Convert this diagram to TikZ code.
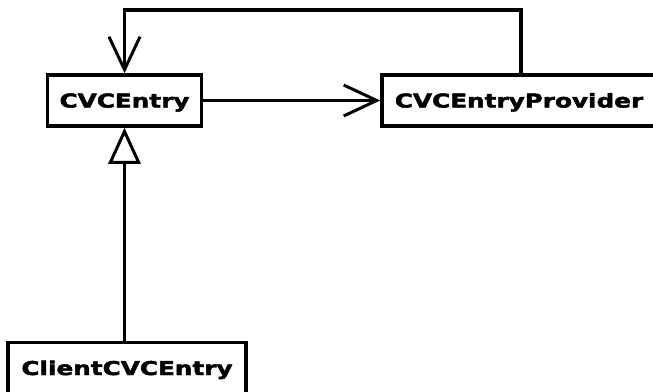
\documentclass[tikz,border=0pt]{standalone}
\usepackage{fontspec}
\newfontfamily\umlfont{DejaVu Sans}[FakeStretch=1.3,FakeBold=2.5]
\usetikzlibrary{arrows.meta,calc}
\begin{document}
\begin{tikzpicture}[x=1pt,y=-1pt,
  classbox/.style={draw,line width=3.5pt,fill=white,inner sep=0pt,
    font=\umlfont\bfseries\fontsize{19pt}{23pt}\selectfont,
    minimum height=51pt,text height=14pt,text depth=0pt},
  conn/.style={line width=3.5pt,line join=miter},
  assoc/.style={conn,-{Straight Barb[length=33pt,width=31pt,line width=3pt]}},
  gener/.style={conn,-{Triangle[open,length=36pt,width=32pt,line width=3pt,fill=white]}}]
\useasboundingbox (0,0) rectangle (653,391);
\node[classbox,minimum width=154pt] (cvc) at (124.5,100.5) {CVCEntry};
\node[classbox,minimum width=274pt] (prov) at (519,100.5) {CVCEntryProvider};
\node[classbox,minimum width=238pt] (client) at (127,368) {ClientCVCEntry};
\coordinate (topleft) at (124.5,10);
\coordinate (clientTop) at (124.5,342);
\draw[assoc] ($(prov.north)+(2,0)$) |- (topleft) -- (cvc.north);
\draw[assoc] (cvc.east) -- (prov.west);
\draw[gener] (clientTop) -- (cvc.south);
\end{tikzpicture}
\end{document}
